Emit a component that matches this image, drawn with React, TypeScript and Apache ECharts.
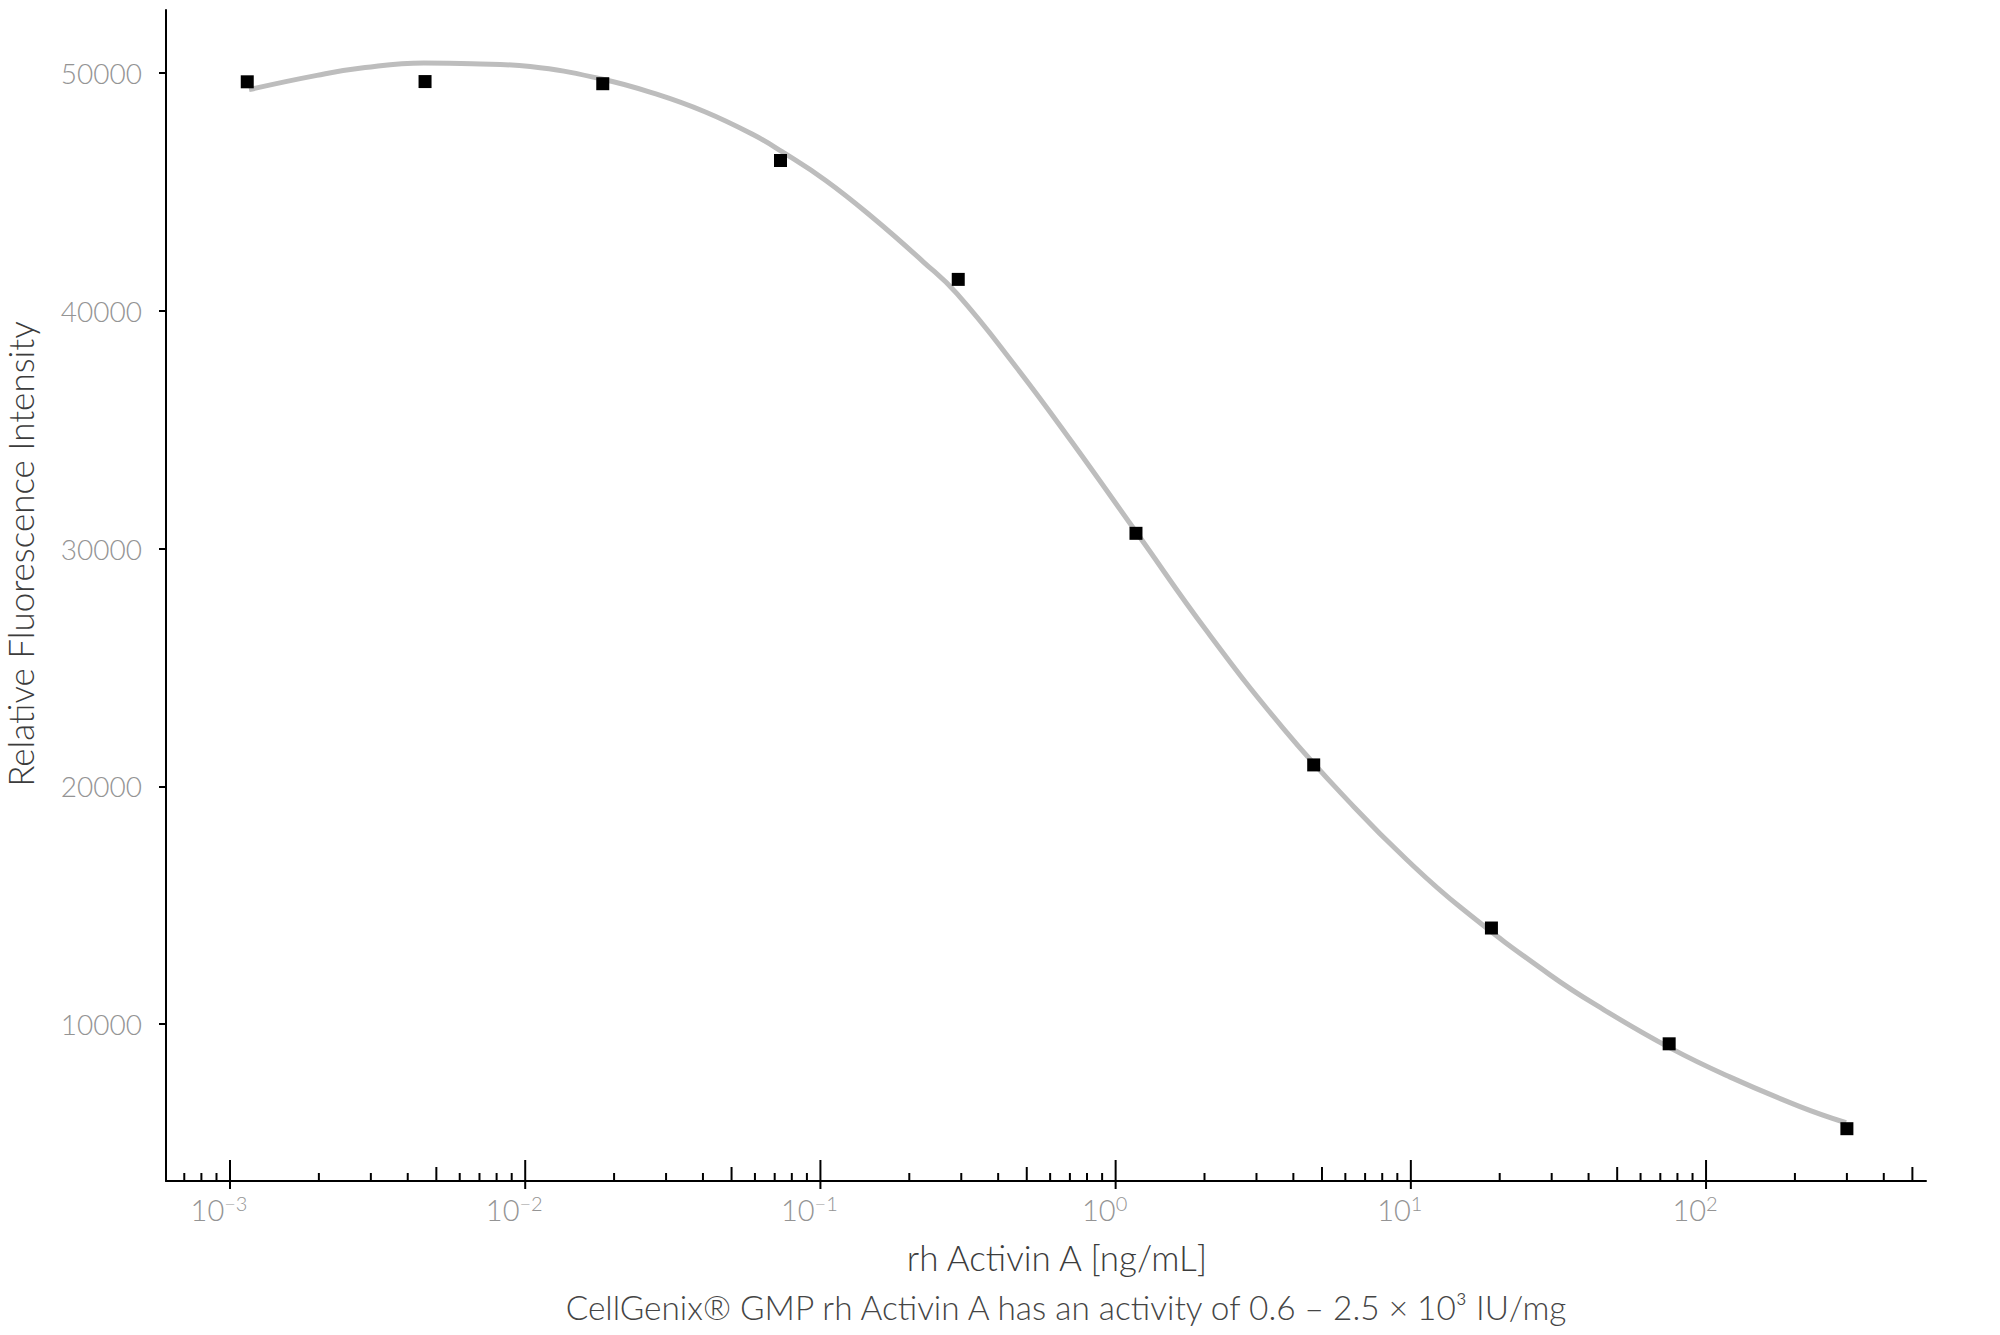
import { useEffect, useRef } from "react";
import * as echarts from "echarts";

// measured points (4-fold dilution series)
const CONC = [0.001144, 0.004578, 0.01831, 0.07324, 0.293, 1.172, 4.6875, 18.75, 75, 300];
const RFU = [49630, 49640, 49550, 46320, 41320, 30640, 20900, 14040, 9170, 5600];

// fitted curve
const FIT_CONC = [
  0.00116, 0.00197, 0.00287, 0.00454, 0.0066, 0.0104, 0.0183, 0.0277, 0.0406, 0.0591,
  0.0741, 0.1045, 0.152, 0.223, 0.29, 0.456, 0.712, 1.182, 2.024, 3.69, 6.42, 9.71,
  14.8, 29.6, 45.1, 75.5, 119.7, 208, 298,
];
const FIT_RFU = [
  49300, 49900, 50230, 50420, 50390, 50270, 49740, 49120, 48370, 47410,
  46690, 45470, 43870, 42060, 40720, 37700, 34470, 30640, 26570, 22450, 19130, 16900,
  14890, 12070, 10600, 9000, 7790, 6530, 5850,
];

const Y_TICKS = [10000, 20000, 30000, 40000, 50000];
const DECADES = [1e-4, 1e-3, 1e-2, 1e-1, 1, 10, 100];
const DECADE_EXP = ["−4", "−3", "−2", "−1", "0", "1", "2"];
const SUBDIVS = [1, 2, 3, 4, 5, 6, 7, 8, 9];

const X_MIN = 0.000607;
const X_MAX = 556;
const Y_MIN = 3400;
const Y_MAX = 52650;

const FONT = "Lato, 'Open Sans', sans-serif";
const LABEL_GREY = "#949494";
const TITLE_GREY = "#3c3c3c";

export default function App() {
  const chartRef = useRef<HTMLDivElement>(null);

  useEffect(() => {
    document.body.style.margin = "0";
    if (!chartRef.current) return;
    const chart = echarts.init(chartRef.current, undefined, { renderer: "svg" });

    // log ticks: [value, y, kind(0 major / 1 five / 2 minor), decade index]
    const tickData: number[][] = [];
    DECADES.forEach((d, di) => {
      SUBDIVS.forEach((m) => {
        const v = d * m;
        if (v < X_MIN || v > X_MAX) return;
        const kind = m === 1 ? 0 : m === 5 ? 1 : 2;
        tickData.push([v, Y_MIN, kind, di]);
      });
    });

    const titleStyle = {
      fontFamily: FONT,
      fontWeight: 300,
      fill: TITLE_GREY,
      align: "center",
      verticalAlign: "middle",
    };

    const option = {
      animation: false,
      backgroundColor: "#ffffff",
      grid: {
        left: 166,
        right: 74,
        top: 10,
        bottom: 154,
        containLabel: false,
        outerBoundsMode: "none",
      },
      xAxis: {
        type: "log",
        logBase: 10,
        min: X_MIN,
        max: X_MAX,
        axisLine: { show: true, lineStyle: { color: "#000", width: 2 } },
        axisTick: { show: false },
        axisLabel: { show: false },
        splitLine: { show: false },
        minorTick: { show: false },
      },
      yAxis: {
        type: "value",
        min: Y_MIN,
        max: Y_MAX,
        axisLine: { show: true, lineStyle: { color: "#000", width: 2 } },
        axisTick: {
          show: true,
          length: 7,
          customValues: Y_TICKS,
          lineStyle: { color: "#000", width: 2 },
        },
        axisLabel: {
          customValues: Y_TICKS,
          formatter: (v: number) => String(v),
          color: LABEL_GREY,
          fontSize: 28,
          fontFamily: FONT,
          fontWeight: 300,
          margin: 24,
        },
        splitLine: { show: false },
      },
      graphic: [
        {
          type: "text",
          x: 20,
          y: 554,
          rotation: Math.PI / 2,
          style: { ...titleStyle, text: "Relative Fluorescence Intensity", fontSize: 35 },
        },
        {
          type: "text",
          x: 1057,
          y: 1257,
          style: { ...titleStyle, text: "rh Activin A [ng/mL]", fontSize: 35 },
        },
        {
          type: "text",
          x: 1066,
          y: 1307,
          style: {
            ...titleStyle,
            text: "CellGenix® GMP rh Activin A has an activity of 0.6 – 2.5 × 10³ IU/mg",
            fontSize: 33.4,
            fill: "#454545",
          },
        },
      ],
      series: [
        {
          name: "fit",
          type: "line",
          data: FIT_CONC.map((c, i) => [c, FIT_RFU[i]]),
          smooth: 0.45,
          showSymbol: false,
          lineStyle: { color: "#bdbdbd", width: 5 },
          z: 2,
        },
        {
          name: "data",
          type: "scatter",
          data: CONC.map((c, i) => [c, RFU[i]]),
          symbol: "rect",
          symbolSize: 13,
          itemStyle: { color: "#000", opacity: 1 },
          z: 3,
        },
        {
          name: "logticks",
          type: "custom",
          silent: true,
          clip: false,
          z: 4,
          data: tickData,
          renderItem: (_params: any, api: any) => {
            const v = api.value(0);
            const kind = api.value(2);
            const di = api.value(3);
            const p = api.coord([v, Y_MIN]);
            const len = kind === 0 ? 21 : kind === 1 ? 14 : 8;
            const children: any[] = [
              {
                type: "line",
                shape: { x1: p[0], y1: p[1] - len, x2: p[0], y2: p[1] + (kind === 0 ? 8 : 0) },
                style: { stroke: "#000", lineWidth: 2 },
              },
            ];
            if (kind === 0) {
              children.push({
                type: "text",
                x: p[0] - 11,
                y: p[1] + 28,
                style: {
                  text: `{b|10}{s|${DECADE_EXP[di]}}`,
                  align: "center",
                  verticalAlign: "middle",
                  fill: LABEL_GREY,
                  fontFamily: FONT,
                  rich: {
                    b: { fontSize: 29, lineHeight: 33, fontFamily: FONT, fontWeight: 300, fill: LABEL_GREY },
                    s: {
                      fontSize: 20,
                      lineHeight: 20,
                      verticalAlign: "top",
                      fontFamily: FONT,
                      fontWeight: 300,
                      fill: LABEL_GREY,
                    },
                  },
                },
              });
            }
            return { type: "group", children };
          },
        },
      ],
    };

    chart.setOption(option as any);

    return () => {
      chart.dispose();
    };
  }, []);

  return <div ref={chartRef} style={{ width: "2000px", height: "1335px" }} />;
}
